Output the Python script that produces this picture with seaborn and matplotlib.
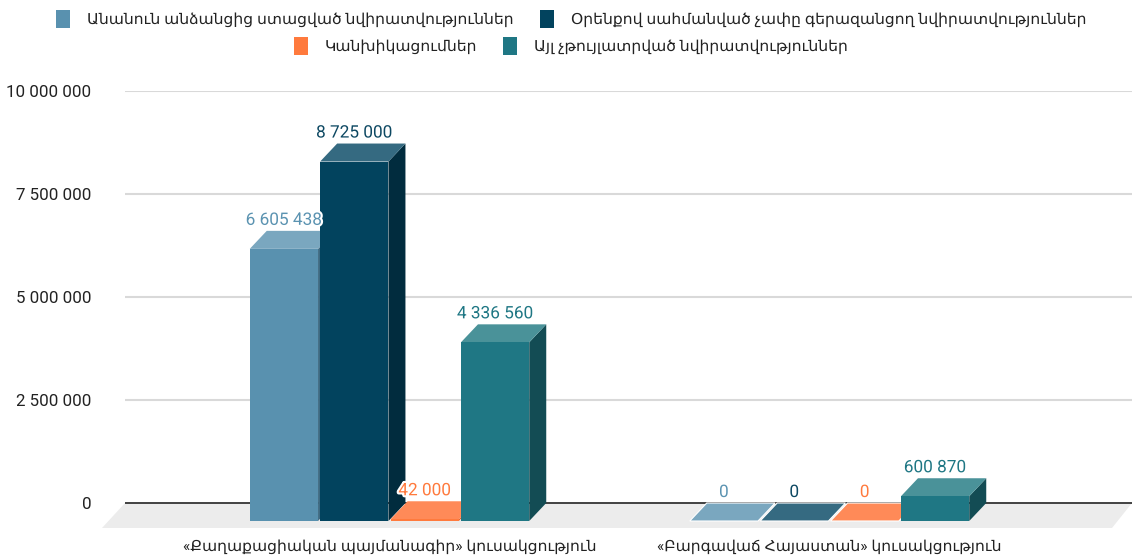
import numpy as np
import pandas as pd
import matplotlib
matplotlib.use("Agg")
import matplotlib.pyplot as plt
import matplotlib.patheffects as pe
from matplotlib.patches import Polygon
from matplotlib.ticker import FuncFormatter
import seaborn as sns

# Տվյալներ
parties = ["«Քաղաքացիական պայմանագիր» կուսակցություն",
           "«Բարգավաճ Հայաստան» կուսակցություն"]
series = ["Անանուն անձանցից ստացված նվիրատվություններ",
          "Օրենքով սահմանված չափը գերազանցող նվիրատվություններ",
          "Կանխիկացումներ",
          "Այլ չթույլատրված նվիրատվություններ"]
anonymous = [6605438, 0]
over_limit = [8725000, 0]
cash = [42000, 0]
other = [4336560, 600870]
yticks = [0, 2500000, 5000000, 7500000, 10000000]

front_colors = ["#5991af", "#02435e", "#ff7a3d", "#1f7784"]
top_colors = ["#7aa7bf", "#356a81", "#ff8a58", "#4a9299"]
side_colors = ["#3e6a82", "#012c3e", "#e0622a", "#134c54"]
label_colors = ["#5b93b1", "#0d4862", "#ff7a3d", "#1f7784"]

df = pd.DataFrame({
    "party": parties * 4,
    "type": np.repeat(series, 2),
    "value": anonymous + over_limit + cash + other,
})

sns.set_theme(style="white")
plt.rcParams["font.family"] = ["Roboto", "DejaVu Sans"]

W, H = 1132, 560
fig = plt.figure(figsize=(W / 100, H / 100), dpi=100)

# pixel layout of the pseudo-3D plot
x0_px, px_per_cat = 406.5, 440.0
y0_px, px_per_unit = 503.0, 412.0 / 1e7
left_px, right_px, top_px, bottom_px = 102, 1132, 91, 528
ax = fig.add_axes([left_px / W, (H - bottom_px) / H,
                   (right_px - left_px) / W, (bottom_px - top_px) / H])

sns.barplot(data=df, x="party", y="value", hue="type", order=parties,
            hue_order=series, palette=front_colors, saturation=1,
            width=0.64, gap=0.03, linewidth=0, ax=ax)

xlim = ((left_px - x0_px) / px_per_cat, (right_px - x0_px) / px_per_cat)
ylim = (-(bottom_px - y0_px) / px_per_unit, 1e7)
ax.set_xlim(xlim)
ax.set_ylim(ylim)

dx = 17 / px_per_cat
dy = 18 / px_per_unit

# floor + grid
back_left = (125 - x0_px) / px_per_cat
floor_dx = 23 / px_per_cat
ax.add_patch(Polygon([(back_left, 0), (xlim[1], 0),
                      (xlim[1] - 20 / px_per_cat, ylim[0]),
                      (back_left - floor_dx, ylim[0])],
                     closed=True, facecolor="#ececec", edgecolor="none", zorder=0.5))
ax.hlines(yticks[1:], back_left, xlim[1], color="#d9d9d9", lw=1.5, zorder=1)
ax.hlines([0], back_left, xlim[1], color="#333333", lw=1.3, zorder=1)

# 3D faces
for i, cont in enumerate(ax.containers):
    for j, p in enumerate(cont.patches):
        x, w, h = p.get_x(), p.get_width(), p.get_height()
        xl = x - dx
        xr = xl + w
        base = 3 + (j * 4 + i) * 0.01
        p.set_x(xl)
        p.set_y(-dy)
        p.set_zorder(base + 0.006)
        ax.add_patch(Polygon([(xr, -dy), (xr + dx, 0), (xr + dx, h), (xr, h - dy)],
                             closed=True, facecolor=side_colors[i],
                             edgecolor="none", zorder=base))
        ax.add_patch(Polygon([(xl, h - dy), (xr, h - dy), (xr + dx, h), (xl + dx, h)],
                             closed=True, facecolor=top_colors[i],
                             edgecolor="white" if h == 0 else "none",
                             lw=0.8, zorder=base + 0.003))
        ax.annotate(f"{int(h):,}".replace(",", " "), (xl + w / 2, h),
                    xytext=(0, 3), textcoords="offset pixels",
                    ha="center", va="bottom", fontsize=12.4,
                    color=label_colors[i], zorder=10,
                    path_effects=[pe.withStroke(linewidth=3, foreground="white")])

# axes
ax.set_yticks(yticks)
ax.yaxis.set_major_formatter(FuncFormatter(lambda v, _: f"{int(v):,}".replace(",", " ")))
ax.set_xticks([k - dx for k in range(len(parties))], labels=parties)
ax.tick_params(axis="y", length=0, pad=7.5, labelsize=12.2, labelcolor="#222222")
ax.tick_params(axis="x", length=0, pad=8, labelsize=11.15, labelcolor="#222222")
ax.set_xlabel("")
ax.set_ylabel("")
for s in ax.spines.values():
    s.set_visible(False)

# legend in two centred rows
handles, labels = ax.get_legend_handles_labels()
ax.get_legend().remove()
for row, yc in [(slice(0, 2), 19), (slice(2, 4), 46)]:
    fig.legend(handles[row], labels[row], loc="center",
               bbox_to_anchor=(571 / W, 1 - yc / H), ncol=2, frameon=False,
               fontsize=11.15, handlelength=0.9, handleheight=1.35,
               handletextpad=1.1, columnspacing=1.7, borderpad=0,
               labelcolor="#222222")

fig.savefig("out.png", dpi=100)
